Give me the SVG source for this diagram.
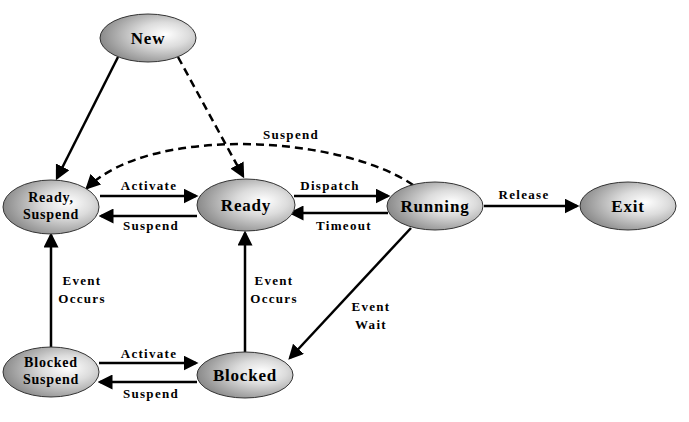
<svg xmlns="http://www.w3.org/2000/svg" width="689" height="422" viewBox="0 0 689 422">
<style>
.node{fill:url(#g);stroke:#333;stroke-width:1}
.nt{font-family:"Liberation Serif",serif;font-weight:bold;fill:#000;text-anchor:middle;letter-spacing:0.8px}
.lb{font-family:"Liberation Serif",serif;font-weight:bold;font-size:13px;fill:#000;text-anchor:middle;letter-spacing:1.3px}
.c{stroke:#000;stroke-width:2.5;fill:none;marker-end:url(#ah)}
.d{stroke-dasharray:8,5}
</style>
<defs>
<radialGradient id="g" cx="0.65" cy="0.45" r="0.65" fx="0.68" fy="0.42">
<stop offset="0" stop-color="#ffffff"/>
<stop offset="0.4" stop-color="#dcdcdc"/>
<stop offset="1" stop-color="#8a8a8a"/>
</radialGradient>
<marker id="ah" markerWidth="6" markerHeight="6" refX="5" refY="3" orient="auto" markerUnits="strokeWidth" viewBox="0 0 6 6">
<path d="M0,0 L6,3 L0,6 Z" fill="#000"/>
</marker>
</defs>
<rect width="689" height="422" fill="#fff"/>
<g id="connectors">
<path class="c" d="M118,57 L57,178"/>
<path class="c d" d="M178,57 L243,176"/>
<path class="c d" d="M413,185 C340,135 150,125 87,188"/>
<path class="c" d="M100,196 L196,196"/>
<path class="c" d="M197,216 L101,216"/>
<path class="c" d="M294,196 L388,196"/>
<path class="c" d="M388,213 L291,213"/>
<path class="c" d="M484,206 L577,206"/>
<path class="c" d="M411,228 L290,358"/>
<path class="c" d="M245,352 L245,233"/>
<path class="c" d="M51,348 L51,235"/>
<path class="c" d="M99,363 L196,363"/>
<path class="c" d="M197,382 L100,382"/>
</g>
<g id="labels">
<text class="lb" x="291" y="139">Suspend</text>
<text class="lb" x="149" y="190">Activate</text>
<text class="lb" x="151" y="230">Suspend</text>
<text class="lb" x="330" y="190">Dispatch</text>
<text class="lb" x="344" y="230">Timeout</text>
<text class="lb" x="524" y="199">Release</text>
<text class="lb" x="82" y="285">Event</text>
<text class="lb" x="82" y="303">Occurs</text>
<text class="lb" x="274" y="285">Event</text>
<text class="lb" x="274" y="303">Occurs</text>
<text class="lb" x="371" y="311">Event</text>
<text class="lb" x="371" y="329">Wait</text>
<text class="lb" x="149" y="358">Activate</text>
<text class="lb" x="151" y="398">Suspend</text>
</g>
<g id="new"><ellipse class="node" cx="148" cy="38" rx="48" ry="24"/><text class="nt" x="148" y="44" font-size="17">New</text></g>
<g id="ready-suspend"><ellipse class="node" cx="51" cy="207" rx="48" ry="27"/><text class="nt" x="51" y="202" font-size="14">Ready,</text><text class="nt" x="51" y="219" font-size="14">Suspend</text></g>
<g id="ready"><ellipse class="node" cx="246" cy="205" rx="49" ry="26"/><text class="nt" x="246" y="211" font-size="17">Ready</text></g>
<g id="running"><ellipse class="node" cx="435" cy="206" rx="48" ry="24"/><text class="nt" x="435" y="212" font-size="17">Running</text></g>
<g id="exit"><ellipse class="node" cx="628" cy="206" rx="48" ry="24"/><text class="nt" x="628" y="212" font-size="17">Exit</text></g>
<g id="blocked-suspend"><ellipse class="node" cx="51" cy="372" rx="48" ry="25"/><text class="nt" x="51" y="367" font-size="14">Blocked</text><text class="nt" x="51" y="384" font-size="14">Suspend</text></g>
<g id="blocked"><ellipse class="node" cx="245" cy="375" rx="48" ry="23"/><text class="nt" x="245" y="381" font-size="17">Blocked</text></g>
</svg>
